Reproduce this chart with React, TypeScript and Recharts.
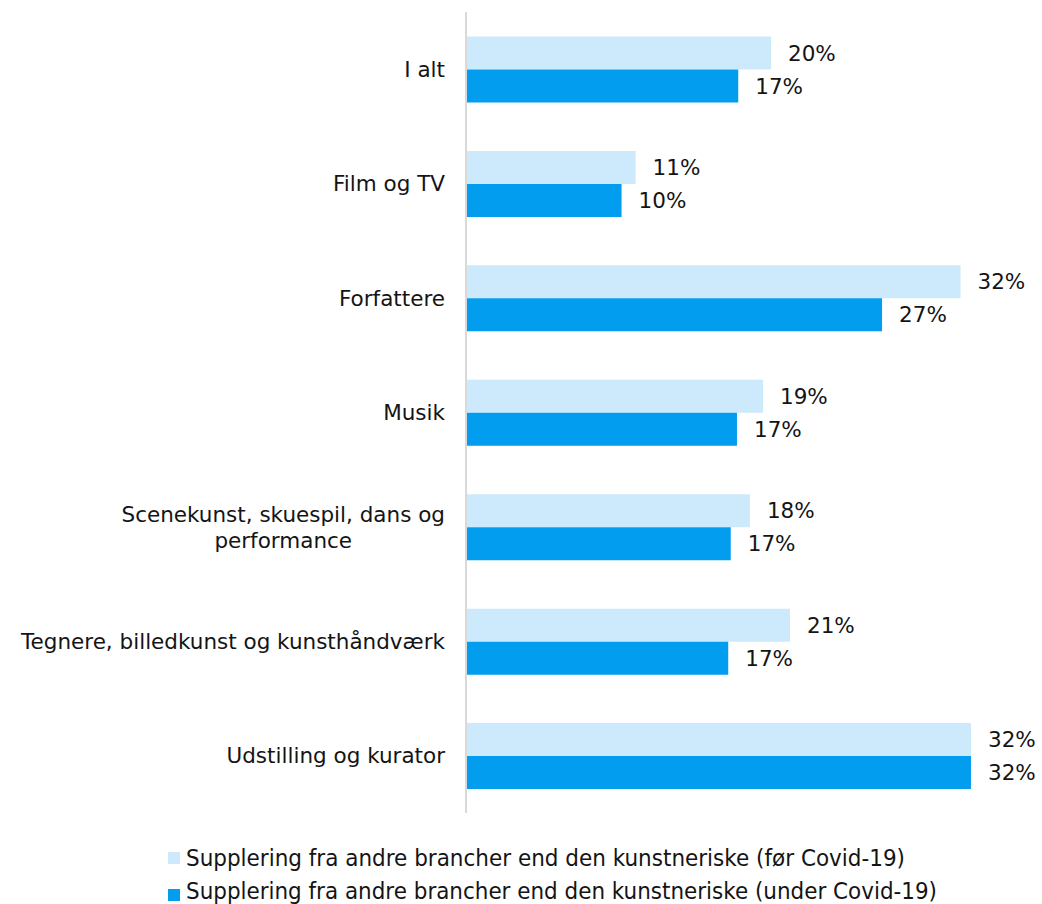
import React from 'react';
import { BarChart, Bar, XAxis, YAxis, LabelList } from 'recharts';

// Kategorier og andele (%)
const categories = [
  'I alt',
  'Film og TV',
  'Forfattere',
  'Musik',
  'Scenekunst, skuespil, dans og performance',
  'Tegnere, billedkunst og kunsthåndværk',
  'Udstilling og kurator',
];
const beforeCovid = [19.55, 10.87, 31.7, 19.04, 18.2, 20.77, 32.37];
const duringCovid = [17.45, 9.97, 26.67, 17.37, 16.97, 16.81, 32.37];
const seriesNames = [
  'Supplering fra andre brancher end den kunstneriske (før Covid-19)',
  'Supplering fra andre brancher end den kunstneriske (under Covid-19)',
];

const LIGHT = '#CCEAFB';
const DARK = '#039DEF';
const TEXT = '#141414';
const FONT = "'DejaVu Sans', Verdana, sans-serif";
const FONT_SIZE = 21.5;

const chartData = categories.map((name, i) => ({
  name,
  foer: beforeCovid[i],
  under: duringCovid[i],
}));

// wrap long labels on word boundaries
const wrapLabel = (label: string, maxChars = 37) => {
  const words = label.split(' ');
  const lines: string[] = [];
  let cur = '';
  words.forEach((w) => {
    const next = cur ? `${cur} ${w}` : w;
    if (next.length > maxChars && cur) {
      lines.push(cur);
      cur = w;
    } else {
      cur = next;
    }
  });
  if (cur) lines.push(cur);
  return lines;
};

let ctx: CanvasRenderingContext2D | null = null;
const measure = (txt: string) => {
  if (!ctx) ctx = document.createElement('canvas').getContext('2d');
  if (!ctx) return txt.length * FONT_SIZE * 0.6;
  ctx.font = `${FONT_SIZE}px ${FONT}`;
  return ctx.measureText(txt).width;
};

const CategoryTick = ({ x, y, payload }: any) => {
  const lines = wrapLabel(payload.value);
  const maxW = Math.max(...lines.map(measure));
  const cx = x - maxW / 2;
  const lineH = 26;
  const startY = y - ((lines.length - 1) * lineH) / 2;
  return (
    <text x={cx} y={startY} textAnchor="middle" fontSize={FONT_SIZE} fontFamily={FONT} fill={TEXT}>
      {lines.map((l, i) => (
        <tspan key={i} x={cx} y={startY + i * lineH} dy="0.355em">
          {l}
        </tspan>
      ))}
    </text>
  );
};

const pct = (v: any) => `${Math.round(Number(v))}%`;

const ChartLegend = () => (
  <svg width={1042} height={91} style={{ position: 'absolute', left: 0, top: 813 }}>
    {[LIGHT, DARK].map((c, i) => (
      <g key={i}>
        <rect x={168} y={39 + i * 37} width={12} height={12} fill={c} />
        <text
          x={186}
          y={53 + i * 33}
          fontSize={23.5}
          fontFamily={FONT}
          fill={TEXT}
          textLength={i === 0 ? 719 : 751}
          lengthAdjust="spacingAndGlyphs"
        >
          {seriesNames[i]}
        </text>
      </g>
    ))}
  </svg>
);

export default function App() {
  return (
    <div style={{ position: 'absolute', left: 0, top: 0, width: 1042, height: 904, background: '#fff' }}>
      <BarChart
        width={1042}
        height={813}
        data={chartData}
        layout="vertical"
        margin={{ top: 12, right: 30, left: 0, bottom: 0 }}
        barCategoryGap="21.4%"
        barGap={0}
      >
        <XAxis type="number" domain={[0, 35]} hide />
        <YAxis
          type="category"
          dataKey="name"
          width={466}
          tickLine={false}
          tickSize={0}
          tickMargin={21}
          axisLine={{ stroke: '#d9d9d9', strokeWidth: 2 }}
          tick={<CategoryTick />}
          interval={0}
        />
        <Bar dataKey="foer" fill={LIGHT} isAnimationActive={false}>
          <LabelList
            dataKey="foer"
            position="right"
            offset={17}
            formatter={pct}
            fontSize={FONT_SIZE}
            fontFamily={FONT}
            fill={TEXT}
          />
        </Bar>
        <Bar dataKey="under" fill={DARK} isAnimationActive={false}>
          <LabelList
            dataKey="under"
            position="right"
            offset={17}
            formatter={pct}
            fontSize={FONT_SIZE}
            fontFamily={FONT}
            fill={TEXT}
          />
        </Bar>
      </BarChart>
      <ChartLegend />
    </div>
  );
}
